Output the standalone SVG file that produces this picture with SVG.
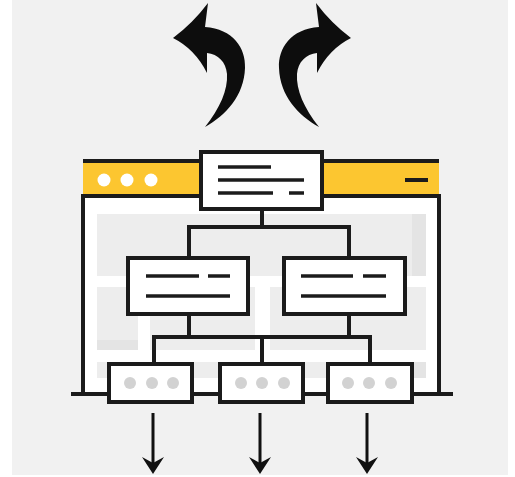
<svg xmlns="http://www.w3.org/2000/svg" width="515" height="477" viewBox="0 0 515 477">
  <defs>
    <style>
      .ln { stroke: #1b1b1b; stroke-width: 4; fill: none; }
      .box { fill: #ffffff; stroke: #1b1b1b; stroke-width: 4; }
      .txt { stroke: #1b1b1b; stroke-width: 3.5; fill: none; }
      .gdot { fill: #d2d2d2; }
      .wdot { fill: #ffffff; }
      .blk { fill: #ededed; }
      .blk2 { fill: #e4e4e4; }
    </style>
    <path id="curl" d="M173,38 Q193,23 208,3 L205,27 C233,29 246,48 245,68 C244,96 226,115 205,127 C220,108 228,90 227,74 C226,62 218,54 207,53 L207,73 Q195,49 173,38 Z" fill="#0d0d0d"/>
    <path id="dhead" d="M0,0 L-11,-17 L0,-11 L11,-17 Z" fill="#111111"/>
  </defs>

  <rect x="0" y="0" width="515" height="477" fill="#ffffff"/>
  <rect x="12" y="0" width="496" height="475" fill="#f1f1f1"/>

  <!-- curved arrows -->
  <g id="arrow-left"><use href="#curl"/></g>
  <g id="arrow-right"><use href="#curl" transform="translate(524,0) scale(-1,1)"/></g>

  <!-- browser window -->
  <g id="window">
    <rect x="83" y="196" width="356" height="198" fill="#ffffff"/>
    <rect class="blk" x="97" y="214" width="315" height="62"/>
    <rect class="blk2" x="412" y="214" width="14" height="62"/>
    <rect class="blk" x="97" y="287" width="41" height="53"/>
    <rect class="blk2" x="97" y="340" width="41" height="10"/>
    <rect class="blk" x="150" y="287" width="105" height="63"/>
    <rect class="blk" x="270" y="287" width="156" height="63"/>
    <rect class="blk" x="97" y="362" width="329" height="16"/>
    <rect class="blk2" x="412" y="362" width="14" height="16"/>
    <rect x="83" y="161" width="356" height="35" fill="#fcc630"/>
    <line class="ln" x1="83" y1="161" x2="439" y2="161"/>
    <polyline class="ln" points="83,394 83,196 439,196 439,394"/>
    <circle class="wdot" cx="104" cy="180" r="6.5"/>
    <circle class="wdot" cx="127" cy="180" r="6.5"/>
    <circle class="wdot" cx="151" cy="180" r="6.5"/>
    <line class="ln" x1="405" y1="180" x2="428" y2="180"/>
    <line class="ln" x1="71" y1="394" x2="453" y2="394"/>
  </g>

  <!-- connectors -->
  <g id="connectors">
    <polyline class="ln" points="262,209 262,227"/>
    <polyline class="ln" points="189,258 189,227 349,227 349,258"/>
    <polyline class="ln" points="189,314 189,337"/>
    <polyline class="ln" points="349,314 349,337"/>
    <polyline class="ln" points="154,364 154,337 370,337 370,364"/>
    <polyline class="ln" points="262,337 262,364"/>
    <line x1="153" y1="413" x2="153" y2="464" stroke="#111" stroke-width="3"/>
    <use href="#dhead" transform="translate(153,474)"/>
    <line x1="260" y1="413" x2="260" y2="464" stroke="#111" stroke-width="3"/>
    <use href="#dhead" transform="translate(260,474)"/>
    <line x1="367" y1="413" x2="367" y2="464" stroke="#111" stroke-width="3"/>
    <use href="#dhead" transform="translate(367,474)"/>
  </g>

  <!-- top node -->
  <g id="node-top">
    <rect class="box" x="201" y="152" width="121" height="57"/>
    <line class="txt" x1="218" y1="167" x2="271" y2="167"/>
    <line class="txt" x1="218" y1="180" x2="304" y2="180"/>
    <line class="txt" x1="218" y1="193" x2="273" y2="193"/>
    <line class="txt" x1="289" y1="193" x2="304" y2="193"/>
  </g>

  <!-- middle nodes -->
  <g id="node-mid-left">
    <rect class="box" x="128" y="258" width="120" height="56"/>
    <line class="txt" x1="146" y1="276" x2="199" y2="276"/>
    <line class="txt" x1="208" y1="276" x2="230" y2="276"/>
    <line class="txt" x1="146" y1="296" x2="230" y2="296"/>
  </g>
  <g id="node-mid-right">
    <rect class="box" x="284" y="258" width="121" height="56"/>
    <line class="txt" x1="301" y1="276" x2="353" y2="276"/>
    <line class="txt" x1="363" y1="276" x2="386" y2="276"/>
    <line class="txt" x1="301" y1="296" x2="386" y2="296"/>
  </g>

  <!-- bottom nodes -->
  <g id="node-bottom-1">
    <rect class="box" x="109" y="364" width="83" height="38"/>
    <circle class="gdot" cx="130" cy="383" r="6"/>
    <circle class="gdot" cx="152" cy="383" r="6"/>
    <circle class="gdot" cx="173" cy="383" r="6"/>
  </g>
  <g id="node-bottom-2">
    <rect class="box" x="220" y="364" width="83" height="38"/>
    <circle class="gdot" cx="241" cy="383" r="6"/>
    <circle class="gdot" cx="262" cy="383" r="6"/>
    <circle class="gdot" cx="284" cy="383" r="6"/>
  </g>
  <g id="node-bottom-3">
    <rect class="box" x="328" y="364" width="84" height="38"/>
    <circle class="gdot" cx="348" cy="383" r="6"/>
    <circle class="gdot" cx="369" cy="383" r="6"/>
    <circle class="gdot" cx="391" cy="383" r="6"/>
  </g>
</svg>
